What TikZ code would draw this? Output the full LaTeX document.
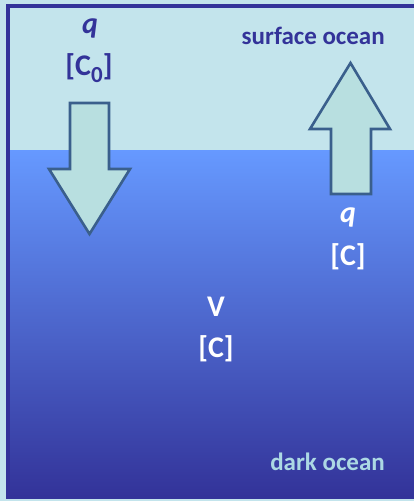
\documentclass[tikz,border=0pt]{standalone}
\usepackage{fontspec}
\setmainfont{Carlito}
\usepackage{tikz}
\usetikzlibrary{arrows.meta, positioning, calc}

\definecolor{surfblue}{RGB}{195,228,236}
\definecolor{deeptop}{RGB}{102,153,255}
\definecolor{deepbot}{RGB}{51,51,153}
\definecolor{framecol}{RGB}{51,51,153}
\definecolor{arrowline}{RGB}{58,95,140}
\definecolor{arrowfill}{RGB}{184,223,224}
\definecolor{darklbl}{RGB}{172,216,228}

\newcommand{\lowsub}[1]{\raisebox{-7pt}{\fontsize{23}{28}\selectfont #1}}

\begin{document}
\begin{tikzpicture}[x=1pt, y=-1pt,
    blockarrow/.style={draw=arrowline, fill=arrowfill, line width=2.6pt, line join=miter},
    bigtxt/.style={font=\fontsize{30}{36}\selectfont\bfseries, anchor=base, inner sep=0pt},
    zonetxt/.style={font=\fontsize{25}{30}\selectfont\bfseries, anchor=base east, inner sep=0pt}]
  \useasboundingbox (0,0) rectangle (414,501);
  \clip (0,0) rectangle (414,501);

  % Surface ocean background
  \fill[surfblue] (0,0) rectangle (414,501);

  % Dark ocean box, shaded downwards
  \shade[top color=deeptop, bottom color=deepbot] (10,150) rectangle (430,497);

  % Frame
  \draw[framecol, line width=4pt] (8,5.5) rectangle (430,497);

  % Downward flux into the dark ocean
  \draw[blockarrow] (70,103) -- (109,103) -- (109,169) -- (130,169) -- (89.5,234)
    -- (49,169) -- (70,169) -- cycle;

  % Upward flux out of the dark ocean
  \draw[blockarrow] (331,194) -- (371,194) -- (371,129) -- (390,129) -- (350.5,63)
    -- (310,129) -- (331,129) -- cycle;

  % Labels
  \node[bigtxt, framecol] (qsurf) at (90,33) {\itshape q};
  \node[bigtxt, framecol] (csurf) at (89,75) {[C\lowsub{0}]};
  \node[bigtxt, white] (qdeep) at (348,222) {\itshape q};
  \node[bigtxt, white] (cdeep) at (348,265) {[C]};
  \node[bigtxt, white] (vol) at (216,316) {V};
  \node[bigtxt, white] (cvol) at (216,357) {[C]};

  \node[zonetxt, framecol] (surflabel) at (385,44) {surface ocean};
  \node[zonetxt, darklbl] (darklabel) at (385,470) {dark ocean};
\end{tikzpicture}
\end{document}
